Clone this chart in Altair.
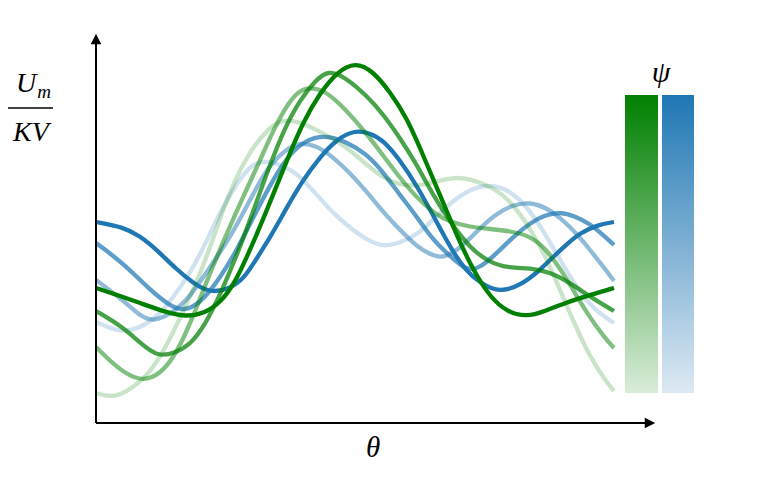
import math
import altair as alt
import pandas as pd

# ---- values (reading units: x along θ, y along U) ----
G5_x = [96,120,140,165,187,205,220,235,250,265,287,303,320,337,355,373,390,407,423,440,457,473,490,507,527,545,565,590,614]
G5_y = [288,296,303,312,317,313,303,283,250,215,160,122,93,72,62,71,92,118,155,195,236,270,297,312,317,311,303,295,288]

G4_x = [96,123,140,158,175,190,205,220,237,253,268,285,300,315,328,345,367,383,400,417,433,450,470,490,510,530,550,572,592,614]
G4_y = [311,327,343,357,353,345,325,295,255,212,170,127,100,81,70,77,96,114,138,165,195,222,248,263,268,268,272,284,298,311]

G3_x = [96,117,140,160,177,193,210,227,243,258,272,285,298,310,325,340,355,370,385,400,417,435,450,470,490,510,530,545,560,575,590,605,614]
G3_y = [347,368,382,375,353,317,273,233,197,165,133,108,91,87,91,104,120,138,158,178,198,214,222,227,229,231,236,248,268,293,318,338,348]

G2_x = [96,115,140,157,173,190,207,222,237,253,268,282,300,317,335,350,367,383,400,417,435,455,470,490,510,530,545,560,575,590,605,614]
G2_y = [393,399,383,363,333,297,257,212,175,147,129,119,122,130,140,150,165,178,185,186,182,177,179,186,200,228,255,290,325,357,380,391]

B5_x = [96,123,140,157,175,193,210,230,245,253,270,287,303,320,337,355,370,383,400,417,433,450,465,480,500,523,540,553,567,580,597,614]
B5_y = [222,227,236,250,268,283,293,289,277,264,238,207,180,157,139,130,133,140,160,186,215,247,270,283,293,284,270,257,244,233,225,222]

B4_x = [96,123,150,170,183,200,220,237,253,270,287,305,325,345,367,383,400,417,433,450,467,480,497,513,530,545,560,575,590,602,614]
B4_y = [243,263,290,306,311,304,278,250,218,185,157,140,135,141,154,172,195,217,240,256,271,268,253,237,223,215,212,216,224,234,245]

B3_x = [96,123,140,153,173,190,210,230,250,267,285,300,317,333,350,367,383,400,417,433,445,463,480,497,513,530,547,563,578,590,602,614]
B3_y = [280,300,316,322,313,297,267,238,200,168,150,142,146,157,173,192,212,230,247,256,258,246,228,213,205,202,208,220,235,250,265,281]

B2_x = [96,110,123,140,157,173,190,205,220,237,250,263,283,300,317,333,350,367,383,400,417,433,450,470,490,510,530,547,563,580,597,614]
B2_y = [322,328,332,328,317,298,273,245,212,183,166,160,165,176,195,213,228,240,247,243,235,220,203,189,184,190,210,237,265,293,312,323]

GREEN = "#008000"
BLUE = "#1f77b4"
curves = [
    ("B2", BLUE, 0.21, B2_x, B2_y),
    ("B3", BLUE, 0.50, B3_x, B3_y),
    ("B4", BLUE, 0.72, B4_x, B4_y),
    ("B5", BLUE, 1.00, B5_x, B5_y),
    ("G2", GREEN, 0.21, G2_x, G2_y),
    ("G3", GREEN, 0.50, G3_x, G3_y),
    ("G4", GREEN, 0.72, G4_x, G4_y),
    ("G5", GREEN, 1.00, G5_x, G5_y),
]

# unit conversion of the readings: one period of θ, U in arbitrary units
def to_theta(xs):
    return [(x - 96) / 518 * 2 * math.pi for x in xs]

def to_u(ys):
    return [(423 - y) / 100 for y in ys]

W, H = 559, 389
xscale = alt.Scale(domain=[0, 559 / 518 * 2 * math.pi], nice=False, zero=False)
yscale = alt.Scale(domain=[0, 3.89], nice=False, zero=False)

one = pd.DataFrame({"k": [0]})
layers = []

for name, col, op, xs, ys in curves:
    df = pd.DataFrame({"theta": to_theta(xs), "U": to_u(ys)})
    layers.append(
        alt.Chart(df).mark_line(interpolate="basis", strokeWidth=4.3, color=col,
                                opacity=op, strokeCap="butt").encode(
            x=alt.X("theta:Q", scale=xscale, axis=None),
            y=alt.Y("U:Q", scale=yscale, axis=None),
        )
    )

# axes with arrowheads
layers.append(alt.Chart(one).mark_rule(strokeWidth=2, color="black").encode(
    x=alt.value(0), y=alt.value(H), y2=alt.value(8)))
layers.append(alt.Chart(one).mark_rule(strokeWidth=2, color="black").encode(
    x=alt.value(0), x2=alt.value(W - 8), y=alt.value(H)))
layers.append(alt.Chart(one).mark_point(shape="M0,-1L-1,1L1,1Z", filled=True, size=110,
                                        color="black", opacity=1).encode(
    x=alt.value(0), y=alt.value(5)))
layers.append(alt.Chart(one).mark_point(shape="M1,0L-1,-1L-1,1Z", filled=True, size=110,
                                        color="black", opacity=1).encode(
    x=alt.value(W - 5), y=alt.value(H)))

serif = "Liberation Serif"
def txt(s, x, y, size):
    return alt.Chart(one).mark_text(text=s, font=serif, fontStyle="italic", fontSize=size,
                                    align="center", baseline="alphabetic", color="black").encode(
        x=alt.value(x), y=alt.value(y))

layers.append(txt("U", -70, 58, 28))
layers.append(txt("m", -52, 64, 19))
layers.append(alt.Chart(one).mark_rule(strokeWidth=1.5, color="black").encode(
    x=alt.value(-88), x2=alt.value(-43), y=alt.value(74)))
layers.append(txt("KV", -65, 107, 28))
layers.append(txt("θ", 277, 423, 29))
layers.append(txt("ψ", 565, 48, 30))

# colour bars
def grad(top, bottom):
    return alt.Gradient(gradient="linear",
                        stops=[alt.GradientStop(color=top, offset=0),
                               alt.GradientStop(color=bottom, offset=1)],
                        x1=0, x2=0, y1=0, y2=1)

layers.append(alt.Chart(one).mark_rect(color=grad(GREEN, "#d9ecd9")).encode(
    x=alt.value(529), x2=alt.value(562), y=alt.value(61), y2=alt.value(359)))
layers.append(alt.Chart(one).mark_rect(color=grad(BLUE, "#dde9f3")).encode(
    x=alt.value(566), x2=alt.value(598), y=alt.value(61), y2=alt.value(359)))

chart = alt.layer(*layers).properties(
    width=W, height=H,
    padding={"left": 88, "top": 26, "right": 60, "bottom": 50},
    autosize=alt.AutoSizeParams(type="none"),
).configure_view(stroke=None)

chart.save("out.html", embed_options={"renderer": "svg", "actions": False})
